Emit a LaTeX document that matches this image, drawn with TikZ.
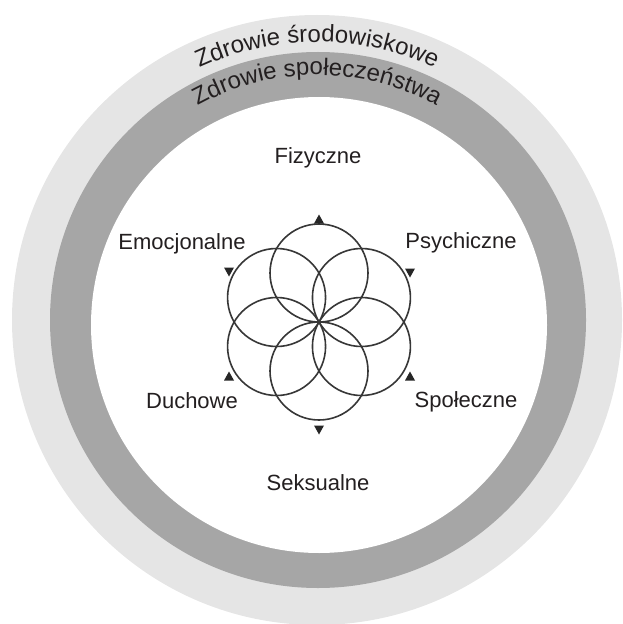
\documentclass[tikz,border=0pt]{standalone}
\usepackage{fontspec}
\setmainfont{Liberation Sans}
\newfontfamily\ringfont{Liberation Sans}
\usepackage{tikz}
\usetikzlibrary{decorations.text}
\usepackage{xcolor}

\definecolor{outerring}{RGB}{229,229,229}
\definecolor{innerring}{RGB}{166,166,166}
\definecolor{petalline}{RGB}{55,55,55}
\definecolor{labeltext}{RGB}{35,31,32}

\begin{document}
\begin{tikzpicture}[x=0.75pt,y=0.75pt,yscale=-1,xscale=1,
  area/.style={font=\fontsize{16.5}{19}\selectfont, text=labeltext, anchor=base, inner sep=0pt},
  petal/.style={draw=petalline, line width=1.2pt},
  marker up/.pic={\fill[black!85] (-5,-4.5) -- (5,-4.5) -- (0,4.5) -- cycle;},
  marker down/.pic={\fill[black!85] (-5,4.5) -- (5,4.5) -- (0,-4.5) -- cycle;}]
\useasboundingbox (0,0) rectangle (622,624);

% Rings
\fill[outerring] (317,320) circle (305);
\fill[innerring] (318,320) circle (268);
\fill[white] (319,325) circle (228);

% Ring texts
\begin{scope}[yscale=-1]
\path[decorate, decoration={text along path, text align=center,
  text format delimiters={|}{|},
  text={|\ringfont\fontsize{18}{20}\selectfont\color{labeltext}|Zdrowie środowiskowe}}]
  (317,-321) ++(150:279) arc[start angle=150, end angle=30, radius=279];
\path[decorate, decoration={text along path, text align=center,
  text format delimiters={|}{|},
  text={|\ringfont\fontsize{18}{20}\selectfont\color{labeltext}|Zdrowie społeczeństwa}}]
  (317,-321) ++(150:246) arc[start angle=150, end angle=30, radius=246];
\end{scope}

% Flower
\coordinate (hub) at (319,322);
\foreach \a in {90,30,-30,-90,-150,150}
  \draw[petal] (hub) ++(\a:49) circle (49);

% Markers
\draw (319,219) pic {marker up};
\draw (229,272) pic {marker down};
\draw (410,273) pic {marker down};
\draw (229,376) pic {marker up};
\draw (410,376) pic {marker up};
\draw (319,430) pic {marker down};

% Text Node
\draw (318,164) node (fizyczne) [area] {Fizyczne};
% Text Node
\draw (182,249) node (emocjonalne) [area] {Emocjonalne};
% Text Node
\draw (461,248) node (psychiczne) [area] {Psychiczne};
% Text Node
\draw (192,408) node (duchowe) [area] {Duchowe};
% Text Node
\draw (466,407) node (spoleczne) [area] {Społeczne};
% Text Node
\draw (318,490) node (seksualne) [area] {Seksualne};

\end{tikzpicture}
\end{document}
